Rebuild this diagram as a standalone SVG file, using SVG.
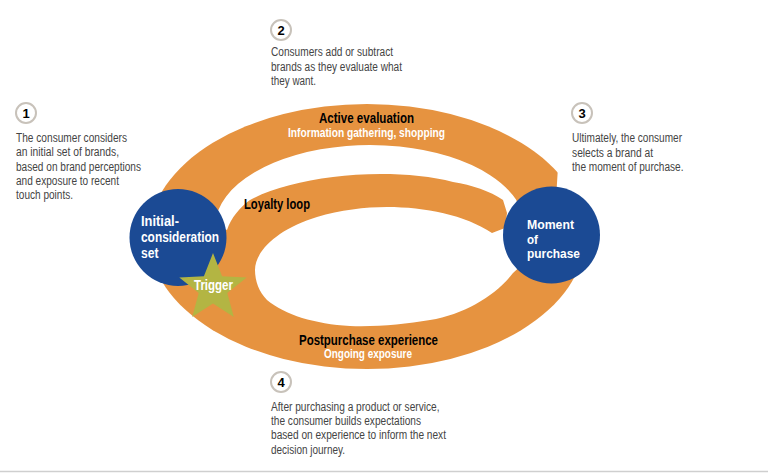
<svg xmlns="http://www.w3.org/2000/svg" width="768" height="473" viewBox="0 0 768 473">
<style>
text { font-family: "Liberation Sans Narrow", "Liberation Sans", Arial, sans-serif; }
.h { font-weight: bold; font-size: 15px; fill: #000; }
.hw { font-weight: bold; font-size: 15px; fill: #fff; }
.hm { font-weight: bold; font-size: 13px; fill: #fff; }
.sub { font-weight: bold; font-size: 13px; fill: #fff; }
.d { font-size: 12px; fill: #444; }
.n { font-weight: bold; font-size: 13px; fill: #000; text-anchor: middle; }
.band { fill: #e69340; }
.gap { fill: #fff; }
.node { fill: #1b4a94; }
.num { fill: #fff; stroke: #c8c2ba; stroke-width: 2; }
</style>
<rect width="768" height="473" fill="#fff"/>

<g id="connectors">
  <ellipse class="band" cx="367" cy="236.5" rx="218" ry="132.5"/>
  <path class="gap" d="M 215.1 224 A 155 82 0 0 1 516 199.5 L 519 206 L 530 215 L 525 262 L 513 273 C 495 296 465 314 430 320 C 405 324 378 327 350 326 C 315 324 285 315 267 300 C 259 292 255 281 255 270 C 255 250 280 228 317 217 C 340 210 365 207 387 207 C 425 207 465 215 492 233 L 505 228 L 507 213 L 503 200 C 490 191 472 185 453 182 C 420 173 370 172 333 177 C 300 181 270 189 250 200 C 240 207 231 218 227 230 Z"/>
  <path class="gap" d="M 558.5 160 L 555.5 206 L 600 206 L 600 160 Z"/>
  <text class="h" x="319" y="122.7" textLength="95" lengthAdjust="spacingAndGlyphs">Active evaluation</text>
  <text class="sub" x="288" y="136.7" textLength="157" lengthAdjust="spacingAndGlyphs">Information gathering, shopping</text>
  <text class="h" x="244" y="209" textLength="66" lengthAdjust="spacingAndGlyphs">Loyalty loop</text>
  <text class="h" x="299" y="344.7" textLength="139" lengthAdjust="spacingAndGlyphs">Postpurchase experience</text>
  <text class="sub" x="324" y="358.3" textLength="88" lengthAdjust="spacingAndGlyphs">Ongoing exposure</text>
</g>

<g id="initial-consideration">
  <circle class="node" cx="178" cy="237.5" r="48.5"/>
  <text class="hw" x="141" y="225.7" textLength="38" lengthAdjust="spacingAndGlyphs">Initial-</text>
  <text class="hw" x="141" y="242.3" textLength="78" lengthAdjust="spacingAndGlyphs">consideration</text>
  <text class="hw" x="141" y="258.3" textLength="17.5" lengthAdjust="spacingAndGlyphs">set</text>
</g>

<g id="trigger">
  <polygon fill="#b3b543" points="213,253 222.1,276.3 246.7,277.5 227.3,293.0 233.8,317 213,303.4 192.2,317 198.7,293.0 179.3,277.5 203.9,276.3"/>
  <text class="hw" x="194" y="290" textLength="39" lengthAdjust="spacingAndGlyphs">Trigger</text>
</g>

<g id="moment-of-purchase">
  <circle class="node" cx="551.5" cy="235" r="48.5"/>
  <text class="hm" x="527" y="229.3" textLength="47" lengthAdjust="spacingAndGlyphs">Moment</text>
  <text class="hm" x="527" y="244" textLength="11" lengthAdjust="spacingAndGlyphs">of</text>
  <text class="hm" x="527" y="258.3" textLength="53" lengthAdjust="spacingAndGlyphs">purchase</text>
</g>

<g id="step1">
  <circle class="num" cx="26" cy="113" r="10"/>
  <text class="n" x="26" y="117.7">1</text>
  <text class="d" x="16" y="142" textLength="111" lengthAdjust="spacingAndGlyphs">The consumer considers</text>
  <text class="d" x="16" y="156.3" textLength="103" lengthAdjust="spacingAndGlyphs">an initial set of brands,</text>
  <text class="d" x="16" y="170.6" textLength="125" lengthAdjust="spacingAndGlyphs">based on brand perceptions</text>
  <text class="d" x="16" y="184.9" textLength="103" lengthAdjust="spacingAndGlyphs">and exposure to recent</text>
  <text class="d" x="16" y="199.2" textLength="57" lengthAdjust="spacingAndGlyphs">touch points.</text>
</g>

<g id="step2">
  <circle class="num" cx="281" cy="30" r="10"/>
  <text class="n" x="281" y="34.7">2</text>
  <text class="d" x="271" y="56.3" textLength="122" lengthAdjust="spacingAndGlyphs">Consumers add or subtract</text>
  <text class="d" x="271" y="70.6" textLength="131" lengthAdjust="spacingAndGlyphs">brands as they evaluate what</text>
  <text class="d" x="271" y="84.9" textLength="45" lengthAdjust="spacingAndGlyphs">they want.</text>
</g>

<g id="step3">
  <circle class="num" cx="582" cy="113" r="10"/>
  <text class="n" x="582" y="117.7">3</text>
  <text class="d" x="572" y="142.3" textLength="110" lengthAdjust="spacingAndGlyphs">Ultimately, the consumer</text>
  <text class="d" x="572" y="156.7" textLength="81" lengthAdjust="spacingAndGlyphs">selects a brand at</text>
  <text class="d" x="572" y="171" textLength="111.5" lengthAdjust="spacingAndGlyphs">the moment of purchase.</text>
</g>

<g id="step4">
  <circle class="num" cx="281" cy="382" r="10"/>
  <text class="n" x="281" y="386.7">4</text>
  <text class="d" x="271" y="410.7" textLength="168.5" lengthAdjust="spacingAndGlyphs">After purchasing a product or service,</text>
  <text class="d" x="271" y="425" textLength="150" lengthAdjust="spacingAndGlyphs">the consumer builds expectations</text>
  <text class="d" x="271" y="439.3" textLength="175" lengthAdjust="spacingAndGlyphs">based on experience to inform the next</text>
  <text class="d" x="271" y="453.6" textLength="74" lengthAdjust="spacingAndGlyphs">decision journey.</text>
</g>

<line x1="0" y1="471.5" x2="768" y2="471.5" stroke="#cfcfcf" stroke-width="1.5"/>
</svg>
